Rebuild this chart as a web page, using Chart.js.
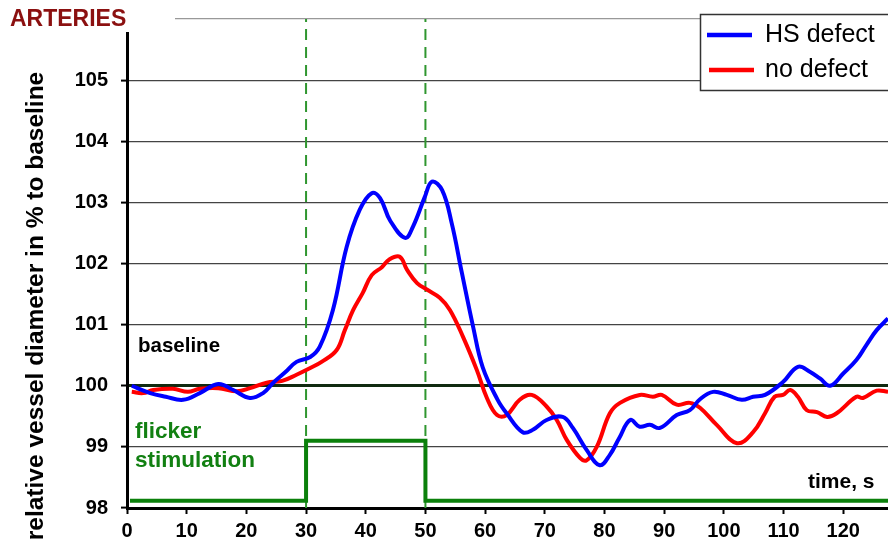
<!DOCTYPE html>
<html>
<head>
<meta charset="utf-8">
<script src="https://cdn.jsdelivr.net/npm/chart.js@4/dist/chart.umd.min.js"></script>
<style>
  html, body { margin: 0; padding: 0; background: #fff; }
  canvas { display: block; }
</style>
</head>
<body>
<canvas id="myChart" width="888" height="546"></canvas>
<script>
// readings taken off the figure (time in s, diameter in % of baseline)
var hsTime = [0.8, 3.9, 6.5, 9.4, 12.2, 15.3, 17.8, 20.6, 22.8, 24.5, 26.5, 28.4, 30.7, 32.3, 34.5, 36.8, 39, 41, 42.4, 44.1,
    46.6, 47.9, 49.9, 51.1, 52.8, 54.4, 56.1, 58, 59.6, 62.1, 63.6, 66.3, 68, 70.3, 73, 74.7, 77, 79.2, 80.9, 82.5,
    84.3, 85.9, 87.6, 89.3, 92.1, 94.3, 96, 98.2, 100.5, 103, 104.9, 106.9, 109.9, 112.4, 114.4, 116.1, 117.8, 120, 122.2, 123.9,
    125.6, 127.5];
var hsDefect = [100.0, 99.88, 99.82, 99.77, 99.88, 100.03, 99.93, 99.8, 99.88, 100.05, 100.22, 100.39, 100.47, 100.64, 101.24, 102.27, 102.88, 103.15, 103.07, 102.7,
    102.42, 102.6, 103.09, 103.34, 103.2, 102.66, 101.85, 100.96, 100.3, 99.77, 99.55, 99.24, 99.28, 99.44, 99.49, 99.31, 98.95, 98.7, 98.87, 99.15,
    99.44, 99.33, 99.36, 99.31, 99.52, 99.6, 99.78, 99.9, 99.85, 99.77, 99.82, 99.85, 100.06, 100.31, 100.23, 100.12, 100.0, 100.2, 100.42, 100.67,
    100.91, 101.1];

var ndTime = [0.8, 2.7, 4.4, 7.7, 10.2, 12.2, 15.3, 18.4, 20.6, 23.4, 26, 28.4, 30.7, 32.6, 35.1, 36.5, 37.9, 39.5, 41, 42.7,
    44, 45.7, 46.9, 48.6, 50.3, 52.4, 54.1, 56.3, 58.6, 60.3, 62, 63.6, 65.8, 67.8, 70.3, 72, 73.7, 75.9, 77, 78.7,
    80.9, 82.6, 85.9, 88.1, 89.6, 92.1, 94.3, 96, 98.8, 102.2, 104.9, 106.9, 108.5, 109.9, 111.1, 112.4, 113.9, 115.6, 117.3, 118.9,
    122.2, 123.3, 125.6, 127.5];
var noDefect = [99.9, 99.88, 99.93, 99.95, 99.9, 99.95, 99.96, 99.91, 99.96, 100.05, 100.08, 100.18, 100.29, 100.39, 100.58, 100.91, 101.24, 101.52, 101.81, 101.94,
    102.07, 102.11, 101.9, 101.68, 101.57, 101.44, 101.24, 100.8, 100.26, 99.8, 99.52, 99.52, 99.77, 99.85, 99.66, 99.44, 99.11, 98.82, 98.78, 99.0,
    99.55, 99.72, 99.85, 99.82, 99.85, 99.69, 99.72, 99.64, 99.36, 99.06, 99.24, 99.55, 99.82, 99.85, 99.93, 99.82, 99.6, 99.57, 99.49, 99.55,
    99.82, 99.8, 99.92, 99.9];

// flicker stimulation on/off trace
var stimTime = [0.5, 30, 30, 50, 50, 128];
var stimLevel = [98.12, 98.12, 99.1, 99.1, 98.12, 98.12];

// stimulation start / end markers
var markTimes = [30, 50];

var yTicks = [98, 99, 100, 101, 102, 103, 104, 105, 106];

var FONT = "'Liberation Sans', Arial, sans-serif";

function pts(xs, ys) {
    return xs.map(function(x, i) { return { x: x, y: ys[i] }; });
}

var markSets = markTimes.map(function(t) {
    return {
        label: 'mark' + t,
        data: pts([t, t], [98, 106]),
        borderColor: '#2f962f',
        borderWidth: 2,
        borderDash: [11, 7],
        pointRadius: 0,
        tension: 0
    };
});

var overlay = {
    id: 'overlay',
    afterDraw: function(chart) {
        var ctx = chart.ctx;
        ctx.save();
        // title box hides top of the axis
        ctx.fillStyle = '#fff';
        ctx.fillRect(0, 0, 175, 32);
        ctx.fillStyle = '#8b1010';
        ctx.font = 'bold 23px ' + FONT;
        ctx.textBaseline = 'middle';
        ctx.textAlign = 'left';
        ctx.fillText('ARTERIES', 10, 20);

        ctx.fillStyle = '#000';
        ctx.font = 'bold 20.5px ' + FONT;
        ctx.fillText('baseline', 138, 346);
        ctx.font = 'bold 21px ' + FONT;
        ctx.fillText('time, s', 808, 482);

        ctx.fillStyle = '#128012';
        ctx.font = 'bold 22.5px ' + FONT;
        ctx.fillText('flicker', 135, 432);
        ctx.fillText('stimulation', 135, 461);

        // y title
        ctx.save();
        ctx.translate(36, 306);
        ctx.rotate(-Math.PI / 2);
        ctx.textAlign = 'center';
        ctx.fillStyle = '#000';
        ctx.font = 'bold 24.5px ' + FONT;
        ctx.fillText('relative vessel diameter in % to baseline', 0, 0);
        ctx.restore();

        // legend
        ctx.fillStyle = '#fff';
        ctx.fillRect(700, 14, 200, 76);
        ctx.strokeStyle = '#333';
        ctx.lineWidth = 1.5;
        ctx.strokeRect(700.5, 14.5, 200, 76);
        var items = [chart.data.datasets[0], chart.data.datasets[1]];
        items.forEach(function(ds, i) {
            var ly = 35 + i * 35;
            ctx.strokeStyle = ds.borderColor;
            ctx.lineWidth = 4.5;
            ctx.beginPath();
            ctx.moveTo(707 + i * 2, ly);
            ctx.lineTo(752 + i * 2, ly);
            ctx.stroke();
            ctx.fillStyle = '#000';
            ctx.font = '25px ' + FONT;
            ctx.textAlign = 'left';
            ctx.fillText(ds.label, 765, ly);
        });
        ctx.restore();
    }
};

var ctx = document.getElementById('myChart').getContext('2d');
var myChart = new Chart(ctx, {
    type: 'line',
    data: {
        datasets: [{
            label: 'HS defect',
            data: pts(hsTime, hsDefect),
            borderColor: '#0000ff',
            borderWidth: 4,
            pointRadius: 0,
            tension: 0.4
        }, {
            label: 'no defect',
            data: pts(ndTime, noDefect),
            borderColor: '#ff0000',
            borderWidth: 4,
            pointRadius: 0,
            tension: 0.4
        }, {
            label: 'stim',
            data: pts(stimTime, stimLevel),
            borderColor: '#0b800b',
            borderWidth: 4,
            pointRadius: 0,
            tension: 0
        }].concat(markSets)
    },
    options: {
        responsive: false,
        animation: false,
        layout: { padding: { top: 19, left: 0, right: 0, bottom: 0 } },
        plugins: { legend: { display: false }, tooltip: { enabled: false } },
        scales: {
            x: {
                type: 'linear',
                min: 0,
                max: 127.5,
                afterFit: function(s) { s.height = 38; },
                border: { color: '#000', width: 3 },
                grid: { drawOnChartArea: false, tickLength: 6, tickColor: '#000', tickWidth: 2 },
                ticks: {
                    stepSize: 10,
                    includeBounds: false,
                    padding: 5,
                    color: '#000',
                    maxRotation: 0,
                    font: { family: FONT, size: 20, weight: 'bold' }
                }
            },
            y: {
                min: 98,
                max: 106,
                afterFit: function(s) { s.width = 127; s.paddingTop = 0; s.paddingBottom = 0; },
                afterBuildTicks: function(s) {
                    s.ticks = yTicks.map(function(v) { return { value: v }; });
                },
                border: { color: '#000', width: 3 },
                grid: {
                    color: function(c) {
                        if (c.tick.value === 100) return '#102a10';
                        if (c.tick.value === 106) return '#999';
                        return '#444';
                    },
                    lineWidth: function(c) { return c.tick.value === 100 ? 3 : 1.2; },
                    tickLength: 6,
                    tickColor: '#000',
                    tickWidth: 2
                },
                ticks: {
                    padding: 13,
                    color: '#000',
                    font: { family: FONT, size: 20, weight: 'bold' },
                    callback: function(v) { return v === 106 ? '' : v; }
                }
            }
        }
    },
    plugins: [overlay]
});
</script>
</body>
</html>
